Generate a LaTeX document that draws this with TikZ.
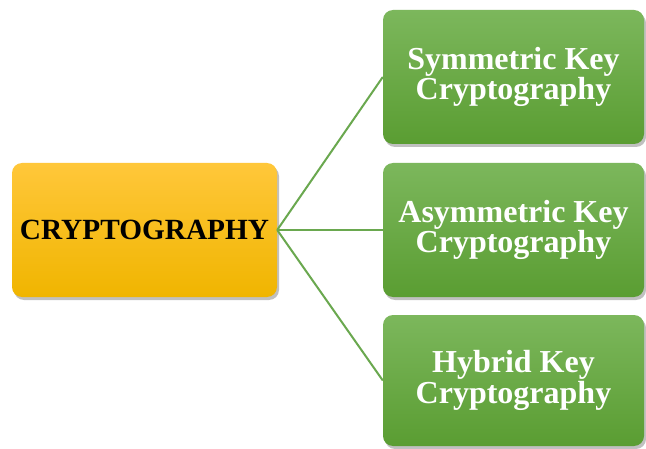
\documentclass[tikz,border=0pt]{standalone}
\usepackage{fontspec}
\setmainfont{Liberation Serif}
\usetikzlibrary{shadows}
\definecolor{orTop}{RGB}{255,199,58}
\definecolor{orBot}{RGB}{240,181,0}
\definecolor{grTop}{RGB}{124,183,92}
\definecolor{grBot}{RGB}{90,157,50}
\definecolor{lineGr}{RGB}{106,168,79}
\tikzset{
  basebox/.style={rectangle, rounded corners=10pt, inner sep=0pt, align=center,
    drop shadow={shadow xshift=2pt, shadow yshift=-3pt, opacity=0.35, fill=black!70}},
  rootbox/.style={basebox, minimum width=265pt, minimum height=134pt,
    top color=orTop, bottom color=orBot, text=black,
    font=\fontsize{29.3}{30}\bfseries\selectfont},
  leafbox/.style={basebox, minimum width=261pt, minimum height=134pt,
    top color=grTop, bottom color=grBot, text=white,
    font=\fontsize{32}{30.5}\bfseries\selectfont},
  conn/.style={draw=lineGr, line width=2pt}
}
\begin{document}
\begin{tikzpicture}[x=1pt,y=1pt]
\useasboundingbox (0,0) rectangle (646,448);
\fill[white] (0,0) rectangle (646,448);
\node[rootbox] (root) at (144.5,218) {CRYPTOGRAPHY};
\node[leafbox] (sym) at (513.5,371) {Symmetric Key\\Cryptography};
\node[leafbox] (asym) at (513.5,218) {Asymmetric Key\\Cryptography};
\node[leafbox, minimum height=131pt] (hyb) at (513.5,67.5) {Hybrid Key\\Cryptography};
\draw[conn] (root.east) -- (sym.west);
\draw[conn] (root.east) -- (asym.west);
\draw[conn] (root.east) -- (hyb.west);
\end{tikzpicture}
\end{document}
